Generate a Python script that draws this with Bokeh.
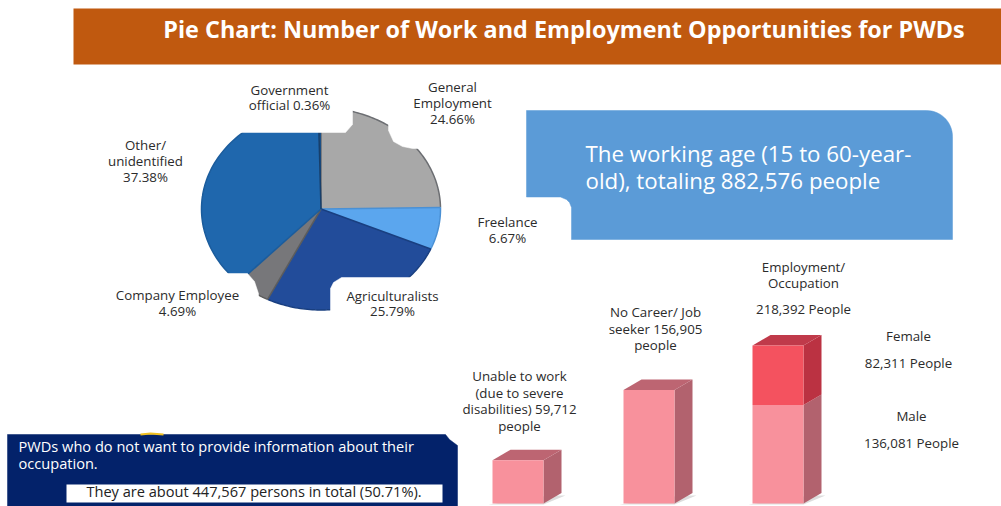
import numpy as np
from bokeh.plotting import figure
from bokeh.models import Range1d
from bokeh.core.properties import value
from bokeh.embed import file_html
from bokeh.resources import INLINE

# ---------- data ----------
pie_names = ["General Employment", "Freelance", "Agriculturalists", "Company Employee", "Other/unidentified", "Government official"]
pie_shares = [24.66, 6.67, 25.79, 4.69, 37.38, 0.36]
bar_names = ["Unable to work", "No Career/ Job seeker", "Employment/ Occupation"]
bar_male = [59712, 156905, 136081]
bar_female = [0, 0, 82311]

# ---------- style / layout ----------
pie_colors = ["#a8a8a8", "#5ba6ee", "#224c9a", "#77777a", "#1f67ad", "#1a4f86"]
rim_colors = ["#6c6e72", "#4a90d4", "#193f80", "#5c5c5c", "#1b5c9c", "#173f6b"]
FONT = "Open Sans"
DARK = "#2b2b2b"
CX, CY, RX, RY = 320.5, 208.5, 119.5, 101
BAR_X = [492, 623, 752]
BAR_W = 51
BASE = 503
PX_PER = 1382.0     # people per pixel
DX, DY = 18, 10.5
TEXT_DY = -1.7

p = figure(width=1001, height=506, output_backend="svg", toolbar_location=None,
           x_range=Range1d(0, 1001), y_range=Range1d(506, 0), min_border=0,
           outline_line_color=None, background_fill_color="white", border_fill_color="white")
p.axis.visible = False
p.grid.visible = False
p.extra_y_ranges["people"] = Range1d(-(506 - BASE) * PX_PER, BASE * PX_PER)


def poly(xs, ys, color):
    p.patch(xs, ys, fill_color=color, line_color=color, line_width=0.5)


def txt(lines, x, ys, size, color=DARK, align="center", style="normal"):
    p.text(x=[x] * len(lines), y=[v + TEXT_DY for v in ys], text=lines, text_font=value(FONT), text_font_size=size,
           text_color=color, text_align=align, text_baseline="middle", text_font_style=style)


# ---------- pie ----------
shares = np.array(pie_shares)
edges = np.concatenate([[0], np.cumsum(shares)]) / shares.sum() * 2 * np.pi
for a0, a1, col, rim in zip(edges[:-1], edges[1:], pie_colors, rim_colors):
    t = np.linspace(a0, a1, 80)
    xs = CX + RX * np.sin(t)
    ys = CY - RY * np.cos(t)
    p.patch(np.r_[CX, xs], np.r_[CY, ys], fill_color=col, line_color=None)
    p.line(xs, ys, line_color=rim, line_width=1.5)
    p.line([CX, xs[0]], [CY, ys[0]], line_color=rim, line_width=1.5)

# white label callouts that overlap the pie
poly([180, 345, 352, 352, 180], [132, 132, 124, 95, 95], "white")
poly([388, 388, 393, 402, 412, 480, 480], [95, 130, 141, 146, 148, 148, 95], "white")
poly([100, 247, 254, 258, 258, 100], [273, 273, 281, 293, 325, 325], "white")
poly([330, 330, 333, 341, 450, 450], [325, 288, 282, 277, 277, 325], "white")
poly([190, 199.5, 201, 190], [180, 180, 195, 195], "white")

# ---------- title bar ----------
p.quad(left=[73], right=[1001], top=[8], bottom=[64], fill_color="#c0590f", line_color=None)
txt(["Pie Chart: Number of Work and Employment Opportunities for PWDs"], 563.5, [30.5], "23.4px", "white", style="bold")

# ---------- blue box ----------
t = np.linspace(0, np.pi / 2, 16)
bx = np.r_[526, 926 + 26 * np.sin(t), 952, 571, 571, 569, 566, 560, 526]
by = np.r_[110, 136 - 26 * np.cos(t), 239, 239, 207, 202, 199, 196.5, 196.5]
poly(bx, by, "#5b9bd7")
txt(["The working age (15 to 60-year-", "old), totaling 882,576 people"], 585, [155, 182], "22.3px", "white", "left")

# ---------- navy box ----------
poly([7, 445, 449, 453, 457, 457, 7], [434, 434, 439, 442, 445, 506, 506], "#03226a")
p.quad(left=[66], right=[442], top=[484], bottom=[502], fill_color="white", line_color=None)
p.line([140, 150, 163], [434, 433, 434], line_color="#f0c020", line_width=2)
txt(["PWDs who do not want to provide information about their", "occupation."], 18, [447, 464], "14.6px", "white", "left")
txt(["They are about 447,567 persons in total (50.71%)."], 253.5, [492], "14.6px", "#222222")

# ---------- bars ----------
male = np.array(bar_male, float)
female = np.array(bar_female, float)
total = male + female
left = np.array(BAR_X, float)
right = left + BAR_W
dv = DY * PX_PER

for l, r, m, tot in zip(left, right, male, total):
    # floor shadow
    p.patch([l - 4, r, r + DX + 4, r + 6], [BASE + 1, BASE + 1, BASE - 8, BASE - 8], fill_color="#dddddd", line_color=None)
    # side face, male part
    p.patch([r, r + DX, r + DX, r], [0, dv, m + dv, m], fill_color="#b2626e", line_color=None, y_range_name="people")
    if tot > m:
        p.patch([r, r + DX, r + DX, r], [m, m + dv, tot + dv, tot], fill_color="#bb3242", line_color=None, y_range_name="people")
        top_col = "#c03a4a"
    else:
        top_col = "#bd6572"
    p.patch([l, l + DX, r + DX, r], [tot, tot + dv, tot + dv, tot], fill_color=top_col, line_color=None, y_range_name="people")

p.vbar(x=(left + right) / 2, width=BAR_W, bottom=0, top=male, fill_color="#f8919c", line_color=None, y_range_name="people")
p.vbar(x=(left + right) / 2, width=BAR_W, bottom=male, top=total, fill_color="#f4525f", line_color=None, y_range_name="people")

# ---------- labels ----------
S = "13.3px"
txt(["Government", "official 0.36%"], 289, [91, 106], S)
txt(["General", "Employment", "24.66%"], 452, [88, 104, 120], S)
txt(["Other/", "unidentified", "37.38%"], 145, [146, 162, 178], S)
txt(["Freelance", "6.67%"], 507, [223, 239], S)
txt(["Company Employee", "4.69%"], 177, [296, 312], S)
txt(["Agriculturalists", "25.79%"], 392, [297, 312], S)
txt(["Unable to work", "(due to severe", "disabilities) 59,712", "people"], 519, [377, 394, 410, 427], S)
txt(["No Career/ Job", "seeker 156,905", "people"], 655, [313, 330, 346], S)
txt(["Employment/", "Occupation", "218,392 People"], 803, [268, 284, 310], S)
txt(["Female", "82,311 People"], 908, [337, 364], S)
txt(["Male", "136,081 People"], 911, [417, 444], S)

open("out.html", "w").write(file_html(p, INLINE))
